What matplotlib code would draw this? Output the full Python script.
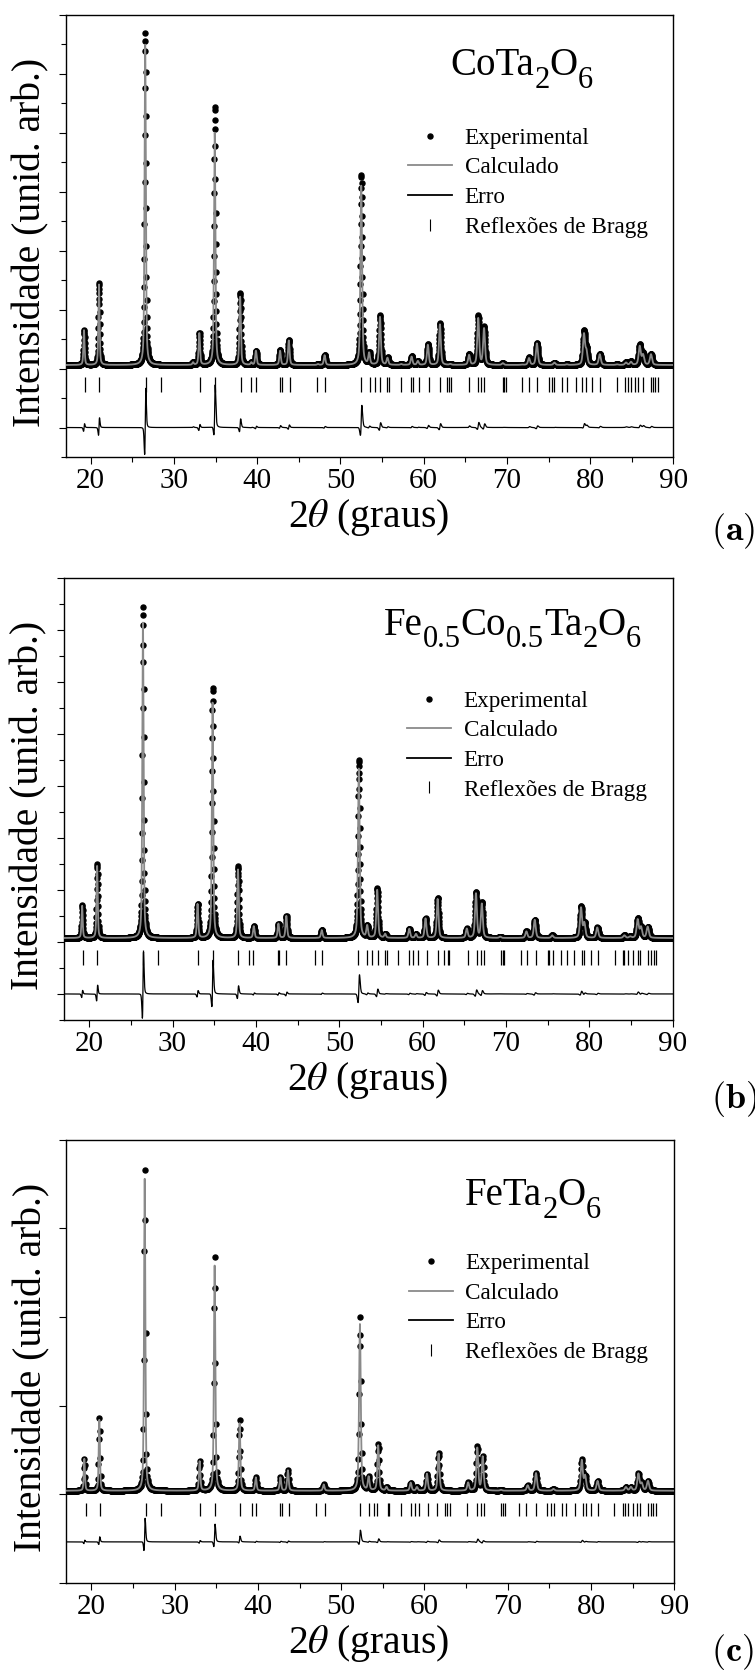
import numpy as np
import matplotlib
matplotlib.use('Agg')
import matplotlib.pyplot as plt
from matplotlib.lines import Line2D

plt.rcParams['font.family'] = ['Liberation Serif', 'DejaVu Serif']
plt.rcParams['mathtext.fontset'] = 'stix'

# ---- (a) CoTa2O6 : posicoes dos picos, topo calculado e topo experimental
pos_a = [19.2, 21.0, 26.55, 32.3, 33.05, 34.9, 37.95, 39.3, 39.85, 42.75, 43.8,
         47.3, 48.1, 52.5, 53.45, 54.75, 55.65, 57.3, 58.55, 59.3, 60.5, 61.95,
         63.2, 65.45, 66.55, 67.25, 69.5, 71.8, 72.65, 73.6, 75.7, 77.2, 79.25,
         79.55, 81.15, 83.2, 84.3, 84.9, 85.95, 86.35, 87.3]
calc_a = [4.3, 5.85, 14.1, 3.2, 4.2, 11.0, 5.45, 3.2, 3.6, 3.6, 3.95,
          3.15, 3.45, 9.2, 3.5, 4.75, 3.35, 3.15, 3.4, 3.25, 3.8, 4.5,
          3.15, 3.45, 4.7, 4.35, 3.18, 3.13, 3.35, 3.85, 3.2, 3.14, 4.15,
          3.55, 3.48, 3.14, 3.2, 3.22, 3.75, 3.45, 3.48]
obs_a = [4.3, 5.9, 14.4, 3.22, 4.2, 11.9, 5.56, 3.2, 3.6, 3.63, 3.97,
         3.15, 3.46, 9.56, 3.52, 4.8, 3.36, 3.15, 3.42, 3.25, 3.83, 4.54,
         3.15, 3.49, 4.78, 4.4, 3.18, 3.13, 3.37, 3.86, 3.2, 3.14, 4.24,
         3.6, 3.5, 3.14, 3.22, 3.24, 3.8, 3.5, 3.5]
bragg_a = [19.3, 21.0, 26.6, 28.4, 33.1, 34.9, 38.0, 39.3, 39.9, 42.7, 43.0, 43.9,
           47.2, 48.1, 52.5, 53.5, 54.1, 54.7, 55.6, 55.8, 57.3, 58.5, 58.7, 59.4,
           60.6, 61.9, 62.8, 63.1, 63.3, 65.4, 66.5, 66.9, 67.2, 69.5, 69.7, 69.9,
           71.8, 72.6, 73.6, 75.1, 75.4, 75.7, 76.6, 77.2, 78.3, 79.0, 79.5, 80.2,
           81.2, 83.2, 84.2, 84.5, 84.9, 85.4, 85.8, 86.3, 87.3, 87.5, 87.8, 88.2]

# ---- (b) Fe0.5Co0.5Ta2O6
pos_b = [19.15, 20.95, 26.45, 33.0, 34.8, 37.85, 39.75, 42.7, 43.65, 47.9, 52.35,
         53.35, 54.55, 55.5, 58.4, 59.2, 60.35, 61.8, 65.3, 66.4, 67.1, 69.3,
         72.45, 73.45, 75.55, 79.0, 79.4, 80.95, 84.2, 84.9, 85.8, 86.2, 87.0]
calc_b = [4.4, 5.95, 15.4, 4.45, 12.2, 5.8, 3.6, 3.7, 4.0, 3.45, 9.7,
          3.6, 5.0, 3.3, 3.5, 3.3, 3.9, 4.65, 3.5, 4.85, 4.45, 3.2,
          3.4, 3.85, 3.25, 4.3, 3.7, 3.55, 3.25, 3.2, 3.85, 3.55, 3.58]
obs_b = [4.4, 6.0, 15.9, 4.46, 12.8, 5.9, 3.6, 3.7, 4.0, 3.46, 10.0,
         3.6, 5.06, 3.3, 3.5, 3.3, 3.9, 4.7, 3.5, 4.9, 4.5, 3.2,
         3.4, 3.85, 3.25, 4.35, 3.7, 3.55, 3.25, 3.2, 3.9, 3.55, 3.58]
bragg_b = [19.2, 20.9, 26.4, 28.2, 33.0, 34.8, 37.8, 39.2, 39.7, 42.6, 42.8, 43.6,
           47.1, 47.9, 52.3, 53.3, 53.9, 54.6, 55.5, 55.7, 57.1, 58.4, 58.9, 59.5,
           60.5, 61.8, 62.6, 63.0, 63.2, 65.4, 66.5, 67.0, 67.4, 69.4, 69.6, 69.8,
           71.8, 72.5, 73.6, 75.0, 75.2, 75.7, 76.6, 77.3, 78.1, 79.1, 79.4, 80.2,
           81.0, 83.1, 84.0, 84.2, 84.6, 85.2, 85.8, 86.1, 87.0, 87.4, 87.7, 88.0]

# ---- (c) FeTa2O6
pos_c = [19.15, 20.95, 26.4, 33.0, 34.8, 37.8, 39.75, 42.7, 43.6, 47.9, 52.25,
         53.3, 54.45, 55.45, 58.35, 59.1, 60.3, 61.7, 65.25, 66.35, 67.0, 69.2,
         72.4, 73.4, 75.5, 78.9, 79.3, 80.8, 84.2, 84.8, 85.7, 86.1, 86.85]
calc_c = [1.40, 1.84, 4.56, 1.37, 3.58, 1.8, 1.19, 1.19, 1.27, 1.11, 2.92,
          1.19, 1.55, 1.08, 1.13, 1.08, 1.23, 1.46, 1.13, 1.52, 1.42, 1.05,
          1.1, 1.24, 1.06, 1.38, 1.2, 1.15, 1.08, 1.08, 1.23, 1.12, 1.15]
obs_c = [1.40, 1.86, 4.68, 1.37, 3.69, 1.84, 1.19, 1.19, 1.27, 1.11, 3.0,
         1.19, 1.57, 1.08, 1.13, 1.08, 1.23, 1.47, 1.13, 1.54, 1.42, 1.05,
         1.1, 1.24, 1.06, 1.39, 1.2, 1.15, 1.08, 1.08, 1.23, 1.12, 1.15]
bragg_c = [19.3, 21.0, 26.5, 28.3, 33.0, 34.8, 37.9, 39.3, 39.8, 42.6, 42.9, 43.7,
           47.0, 48.0, 52.3, 53.4, 53.9, 54.3, 55.6, 55.8, 57.2, 58.4, 58.9, 59.4,
           60.4, 61.5, 62.5, 62.7, 63.1, 65.1, 66.3, 66.8, 67.2, 69.2, 69.4, 69.7,
           71.4, 72.2, 73.4, 74.7, 75.2, 75.6, 76.5, 77.0, 78.1, 79.0, 79.4, 80.0,
           80.8, 82.8, 83.8, 84.1, 84.5, 85.0, 85.5, 85.9, 86.9, 87.2, 87.5, 87.8]

# formulas: (texto, subscrito?)
formula_a = [('CoTa', 0), ('2', 1), ('O', 0), ('6', 1)]
formula_b = [('Fe', 0), ('0.5', 1), ('Co', 0), ('0.5', 1), ('Ta', 0), ('2', 1), ('O', 0), ('6', 1)]
formula_c = [('FeTa', 0), ('2', 1), ('O', 0), ('6', 1)]
letras = ['(a)', '(b)', '(c)']
rotulos = ['Experimental', 'Calculado', 'Erro', 'Reflexões de Bragg']


def pv(x, x0, w, eta=0.5):
    u = (x - x0) / w
    return eta / (1 + 4 * u**2) + (1 - eta) * np.exp(-4 * np.log(2) * u**2)


def perfil(x, pos, topos, bg, w0, shift=0.0):
    y = np.full_like(x, bg)
    for p, t in zip(pos, topos):
        w = w0 * (1 + 0.012 * (p - 20))
        y += (t - bg) * pv(x, p + shift, w)
    return y


def escreve_formula(ax, x0, y0, partes, fs=28, fs_sub=22, queda=9):
    prev = ax.text(x0, y0, partes[0][0], transform=ax.transAxes,
                   ha='left', va='baseline', fontsize=fs)
    for txt, sub in partes[1:]:
        prev = ax.annotate(txt, xy=(1, y0), xycoords=(prev, 'axes fraction'),
                           xytext=(0, -queda if sub else 0), textcoords='offset points',
                           ha='left', va='baseline', fontsize=fs_sub if sub else fs)


paineis = [
    dict(pos=pos_a, calc=calc_a, obs=obs_a, bragg=bragg_a, bg=3.12, ymax=15,
         err0=1.0, br=(2.2, 2.71), step=0.02, shift=0.014,
         rect=[0.087, 0.7275, 0.805, 0.2636], form=formula_a, tit=(0.633, 0.864), yl=531),
    dict(pos=pos_b, calc=calc_b, obs=obs_b, bragg=bragg_b, bg=3.15, ymax=17,
         err0=1.0, br=(2.12, 2.69), step=0.02, shift=0.014,
         rect=[0.085, 0.3918, 0.806, 0.2636], form=formula_b, tit=(0.525, 0.871), yl=1099),
    dict(pos=pos_c, calc=calc_c, obs=obs_c, bragg=bragg_c, bg=1.04, ymax=5,
         err0=0.463, br=(0.75, 0.90), step=0.05, shift=0.007,
         rect=[0.088, 0.0561, 0.805, 0.2642], form=formula_c, tit=(0.656, 0.852), yl=1652),
]

fig = plt.figure(figsize=(7.55, 16.77), dpi=100)

for i, p in enumerate(paineis):
    ax = fig.add_axes(p['rect'])
    x = np.arange(17.0, 90.0 + 1e-9, p['step'])
    yc = perfil(x, p['pos'], p['calc'], p['bg'], 0.17)
    yo = perfil(x, p['pos'], p['obs'], p['bg'], 0.17, p['shift'])
    err = yo - yc + p['err0']

    ax.plot(x, yo, ls='none', marker='o', ms=3.6, color='k', zorder=2)
    ax.plot(x, yc, color='#8a8a8a', lw=1.3, zorder=3)
    ax.vlines(p['bragg'], p['br'][0], p['br'][1], color='k', lw=0.9, zorder=3)
    ax.plot(x, err, color='k', lw=0.9, zorder=3)

    ax.set_xlim(17, 90)
    ax.set_ylim(0, p['ymax'])
    ax.set_xticks(np.arange(20, 91, 10))
    ax.set_xticks(np.arange(25, 90, 10), minor=True)
    if p['ymax'] > 5:
        ax.set_yticks(np.arange(1, p['ymax'] + 1, 2))
        ax.set_yticks(np.arange(0, p['ymax'] + 1, 2), minor=True)
    else:
        ax.set_yticks(np.arange(0, p['ymax'] + 1, 1))
    ax.set_yticklabels([])
    ax.tick_params(which='both', direction='out', top=False, right=False, width=0.8)
    ax.tick_params(which='major', length=5, labelsize=21, pad=3)
    ax.tick_params(which='minor', length=3.5)
    for s in ax.spines.values():
        s.set_linewidth(1.0)

    ax.set_ylabel('Intensidade (unid. arb.)', fontsize=28.5)
    ax.yaxis.set_label_coords(-0.027, 0.486)
    ax.set_xlabel(r'2$\theta$ (graus)', fontsize=28.5)
    ax.xaxis.set_label_coords(0.498, -0.09)

    escreve_formula(ax, p['tit'][0], p['tit'][1], p['form'])

    handles = [
        Line2D([], [], ls='none', marker='o', ms=3.6, color='k'),
        Line2D([], [], color='#8a8a8a', lw=1.3),
        Line2D([], [], color='k', lw=1.3),
        Line2D([], [], ls='none', marker='|', ms=8, mew=0.8, color='k'),
    ]
    ax.legend(handles, rotulos, loc='upper left', bbox_to_anchor=(0.563, 0.745),
              frameon=False, fontsize=16.7, handlelength=1.9, handletextpad=0.55,
              labelspacing=0.36, borderpad=0, borderaxespad=0)

    fig.text(711 / 755, 1 - p['yl'] / 1677, r'$\mathbf{' + letras[i] + '}$',
             math_fontfamily='cm', fontsize=26, ha='left', va='center')

fig.savefig('out.png', dpi=100)
